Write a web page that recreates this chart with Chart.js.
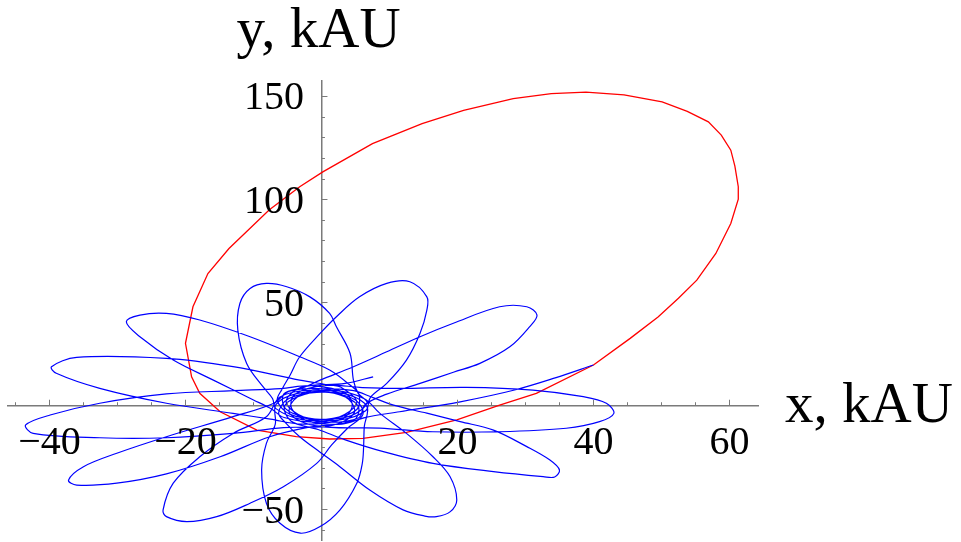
<!DOCTYPE html>
<html>
<head>
<meta charset="utf-8">
<title>Comet orbits, kAU</title>
<script src="https://cdn.jsdelivr.net/npm/chart.js@4.4.1/dist/chart.umd.min.js"></script>
<style>
  html, body { margin: 0; padding: 0; background: #fff; }
  #wrap { width: 961px; height: 542px; }
</style>
</head>
<body>
<div id="wrap"><canvas id="orbitChart" width="961" height="542"></canvas></div>
<script>
// axis ranges (kAU)
const xRange = [-46.1, 64.2];
const yRange = [-65, 157.2];

// tick positions and labelled values
const xMinorTicks = [-45, -40, -35, -30, -25, -20, -15, -10, -5, 5, 10, 15, 20, 25, 30, 35, 40, 45, 50, 55, 60];
const yMinorTicks = [-60, -50, -40, -30, -20, -10, 10, 20, 30, 40, 50, 60, 70, 80, 90, 100, 110, 120, 130, 140, 150];
const xTickLabels = [-40, -20, 20, 40, 60];
const yTickLabels = [-50, 50, 100, 150];

// unperturbed orbit, [x, y] in kAU
const redOrbit = [[40,19.7],[45.4,32.6],[49.5,43],[52.5,52],[55.2,60.8],[58,73.7],[60.2,88.2],[61.3,100],
  [61.3,106],[60.8,116],[60.2,123.7],[58.8,131],[56.9,137.4],[53.8,142.5],[50.1,147.1],[44.5,150.5],
  [38.9,151.8],[33.8,151.1],[28.2,148.7],[20.9,143],[14.8,136.6],[7.5,126.9],[0.2,113.2],[-3.2,106],
  [-7.7,94.7],[-13.6,76.1],[-16.7,64],[-18.9,47.9],[-20,30.2],[-19.1,14],[-17.9,6],[-14.9,-2.9],
  [-9.5,-11.8],[-3.7,-15],[1.2,-16.1],[6.1,-15.8],[12.5,-12.9],[19.9,-6.9],[26.2,0.3],[31.6,6],[40,19.7]];

// perturbed orbit, one loop at a time (each ends with its swing past pericentre)
const startLeg = [[40,19.7],[34.5,13.6],[28.4,7.6],[20.4,1.9],[11.5,-2.9],[6.5,-5.6],
  [3,-8.9],[-2.2,-7.2],[-4.4,-1.2],[-3.9,5.6],[0.6,9.9]];
const loopRight = [[6,8.8],[11.5,8.4],[21.3,8.9],[31.1,7.6],[38.5,4.4],[41.9,1.2],[43,-3.7],[40.9,-7.7],
  [36,-10.9],[26.2,-12.6],[16.4,-12.6],[8.6,-10.8],
  [-0.6,-9.9],[-4.6,-4.1],[-4.1,2.6],[-1.1,7.8],[4.5,7.4]];
const loopLowerRight = [[7.6,3.9],[10.6,0.3],[15.5,-3.6],[20.4,-7.7],[25.3,-11.8],[30.2,-19.8],[33.6,-26.3],
  [35,-31.1],[34.3,-34.5],[32.6,-34.3],[25.3,-31.9],[16.4,-27.9],[9.1,-22.2],[3.5,-16.5],[-0.5,-11.5],
  [-4.5,-7.4],[-5.4,0.1],[-2.5,5.5],[1.9,7.4],[6.3,3.4]];
const loopLow = [[8.6,-3.7],[12.5,-13.4],[16.4,-24.7],[18.9,-34.3],[19.9,-45.6],[18.9,-51.4],[16.9,-53.7],
  [15.2,-53.4],[12,-50.4],[7.1,-40.8],[2.7,-29.5],[-0.2,-22.5],[-3.2,-15],[-5.2,-8.5],
  [-6.3,-3.4],[-4.8,3.5],[-0.7,6.5],[3.9,5.4],[6.7,-0.5]];
const loopBottom = [[6.3,-10],[6.2,-19.8],[6,-28],[5.2,-37.5],[2.7,-50.5],[-0.2,-58.5],[-3.1,-61.7],
  [-6.1,-56.9],[-8.1,-47.2],[-8.8,-31.1],[-8.1,-18.2],[-6.8,-9],
  [-6.7,0.5],[-3.5,6],[1.1,6.4],[5,2.8],[6.1,-4.2]];
const loopLowerLeft = [[3.8,-11],[1.5,-19],[-0.7,-27.9],[-5.6,-39.2],[-10.5,-47.2],[-15.4,-53.7],
  [-19.8,-56.1],[-22.8,-53.7],[-23.3,-50.5],[-21.8,-37.5],[-17.9,-24.7],[-13,-13.4],[-8.1,-5.3],
  [-6.1,4.2],[-1.8,7.5],[2.6,5.4],[5.4,-0.1],[4.7,-7.1]];
const loopLeftLow = [[-2,-10.5],[-7.6,-15],[-14.9,-24.7],[-22.8,-33],[-30.1,-37.5],[-36,-38.4],[-37.2,-36],
  [-35,-29.5],[-30.1,-23],[-22.8,-15],[-13,-5.3],[-7,1.2],
  [-4.7,7.1],[0.7,7.9],[4,3.1],[4.8,-3.6],[1.4,-9.7]];
const loopLeft = [[-5.6,-10.6],[-13,-13.4],[-22.8,-15.5],[-32.6,-15.5],[-42.4,-13.4],[-43.5,-9.3],
  [-39.9,-4.5],[-32.6,1.2],[-22.8,5.7],[-13,7.3],[-6,8.3],
  [-1.4,9.7],[3.6,5.9],[4.5,-0.8],[2.6,-7],[-2.9,-8.9]];
const loopLeftHigh = [[-7.5,-6.5],[-13,-3.7],[-22.8,1.2],[-32.6,8.4],[-39,15.7],[-39.7,18.9],[-36,23.4],
  [-22.8,22.9],[-13,18.9],[-3.2,12.4],[1.2,10],
  [2.9,8.9],[5.2,2],[3.4,-4.3],[-0.5,-7.9],[-5.5,-5.7]];
const loopUpperLeft = [[-7.4,-1.5],[-10,2.8],[-15.9,12.4],[-21.8,22.1],[-26.7,33.4],[-28.7,40.6],
  [-26.7,43.9],[-22.8,44.7],[-17.9,41.5],[-10.5,33.4],[-3.2,23.7],[1.2,17.3],[4.2,10],
  [5.5,5.7],[5.2,-1.8],[1.7,-6.1],[-3,-6.6],[-6.7,-1.4]];
const loopTop = [[-7.2,3.5],[-8.6,9.2],[-11,20.5],[-12.3,36.6],[-12,49.5],[-10.5,56.8],[-8.1,59.2],
  [-5.1,57.6],[-1.7,52.7],[1.2,44.7],[2.2,38.2],[4.2,25.4],[4.7,12.4],[5.4,6],
  [6.7,1.4],[4.3,-4.9],[-0.2,-6.6],[-4.6,-4.2],[-6.5,2.4]];
const loopUpperRight = [[-5.8,8],[-4.6,14.9],[-3.2,23.7],[-0.2,35],[2.2,43.1],[5.6,52.7],[9.6,59.2],
  [13,60],[15.5,52.7],[15.5,46.3],[14.5,35.1],[12.5,22.1],[9.6,10.8],[7.2,4],
  [6.5,-2.4],[2.7,-6.9],[-1.9,-6],[-5.3,-1.4],[-5.5,5.8]];
const loopRightHigh = [[-2.5,9],[-0.2,12.4],[4.7,18.9],[9.6,26.1],[14.5,33.4],[19.4,39.9],[26.2,47.9],
  [30.2,47.9],[31.7,43.9],[30.6,38.2],[27.7,28.5],[23.3,20.5],[19.4,16.2],[14.5,10.8],[9.6,5.6],[6.4,0.5],
  [5.5,-5.8],[0.5,-7.9],[-3.4,-4.2],[-5.2,2.1],[-3,8.9]];
const endLeg = [[3.5,10.8],[7.6,14]];

const bluePath = [].concat(startLeg, loopRight, loopLowerRight, loopLow, loopBottom, loopLowerLeft,
  loopLeftLow, loopLeft, loopLeftHigh, loopUpperLeft, loopTop, loopUpperRight, loopRightHigh, endLeg);

const toXY = pts => pts.map(([x, y]) => ({x: x, y: y}));
const axisColor = '#7a7a7a';
const serif = '"Liberation Serif", "DejaVu Serif", serif';
const fmt = v => (v < 0 ? '\u2212' + Math.abs(v) : String(v));

// ticks pointing into the positive side, labels and axis names
const axisDecor = {
    id: 'axisDecor',
    afterDraw(chart) {
        const ctx = chart.ctx;
        const xs = chart.scales.x, ys = chart.scales.y;
        const x0 = xs.getPixelForValue(0);
        const y0 = ys.getPixelForValue(0);
        ctx.save();
        ctx.strokeStyle = axisColor;
        ctx.lineWidth = 1;
        ctx.beginPath();
        xMinorTicks.forEach(v => {
            const px = Math.round(xs.getPixelForValue(v)) + 0.5;
            const len = xTickLabels.includes(v) ? 6 : 3.5;
            ctx.moveTo(px, y0);
            ctx.lineTo(px, y0 - len);
        });
        yMinorTicks.forEach(v => {
            const py = Math.round(ys.getPixelForValue(v)) + 0.5;
            const len = yTickLabels.includes(v) ? 6 : 3.5;
            ctx.moveTo(x0, py);
            ctx.lineTo(x0 + len, py);
        });
        ctx.stroke();

        ctx.fillStyle = '#000';
        ctx.font = '40px ' + serif;
        ctx.textBaseline = 'alphabetic';
        ctx.textAlign = 'center';
        xTickLabels.forEach(v => ctx.fillText(fmt(v), xs.getPixelForValue(v), y0 + 48.5));
        ctx.textAlign = 'right';
        yTickLabels.forEach(v => ctx.fillText(fmt(v), x0 - 17.5, ys.getPixelForValue(v) + 13.5));

        ctx.font = '57px ' + serif;
        ctx.textAlign = 'left';
        ctx.fillText('x, kAU', xs.right + 27, y0 + 16);
        ctx.fillText('y, kAU', x0 - 85, ys.top - 34);
        ctx.restore();
    }
};

new Chart(document.getElementById('orbitChart'), {
    type: 'scatter',
    data: {
        datasets: [
            {
                label: 'perturbed',
                data: toXY(bluePath),
                showLine: true,
                borderColor: '#0000ff',
                borderWidth: 1.2,
                pointRadius: 0,
                tension: 0.35
            },
            {
                label: 'unperturbed',
                data: toXY(redOrbit),
                showLine: true,
                borderColor: '#ff0000',
                borderWidth: 1.3,
                pointRadius: 0,
                tension: 0
            }
        ]
    },
    options: {
        responsive: false,
        animation: false,
        events: [],
        layout: { padding: { left: 8, right: 203, top: 81, bottom: 2 } },
        plugins: {
            legend: { display: false },
            tooltip: { enabled: false }
        },
        scales: {
            x: {
                type: 'linear',
                min: xRange[0],
                max: xRange[1],
                position: { y: 0 },
                grid: { display: false, drawTicks: false },
                border: { display: true, color: axisColor, width: 1.5 },
                ticks: { display: false },
                afterFit(scale) { scale.height = 0; }
            },
            y: {
                type: 'linear',
                min: yRange[0],
                max: yRange[1],
                position: { x: 0 },
                grid: { display: false, drawTicks: false },
                border: { display: true, color: axisColor, width: 1.5 },
                ticks: { display: false },
                afterFit(scale) { scale.width = 0; }
            }
        }
    },
    plugins: [axisDecor]
});
</script>
</body>
</html>
